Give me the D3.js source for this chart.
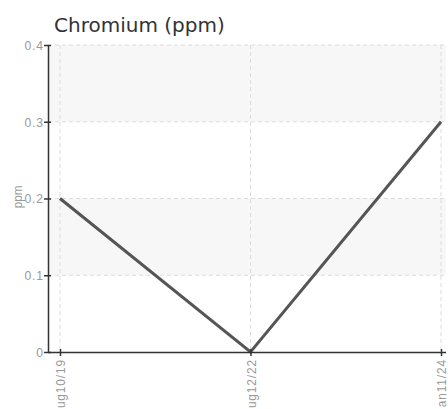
<!DOCTYPE html>
<html><head><meta charset="utf-8">
<script src="https://cdn.jsdelivr.net/npm/d3@7"></script>
<style>
body{margin:0;background:#fff;}
svg{display:block;}
</style></head>
<body>
<svg id="c" width="448" height="409"></svg>
<script>
const categories = ["Aug10/19", "Aug12/22", "Jan11/24"];
const values = [0.2, 0, 0.3];
const yTicks = [0, 0.1, 0.2, 0.3, 0.4];
const yTickLabels = ["0", "0.1", "0.2", "0.3", "0.4"];

(function(){
const svg = d3.select("#c");
const mLeft = 48, mRight = 446, mTop = 45, mBottom = 352;
const x = d3.scalePoint().domain(categories).range([60, 441]);
const y = d3.scaleLinear().domain([0, 0.4]).range([mBottom, mTop]);
const condFont = "'Liberation Sans', Arial, sans-serif";

// bands
const bands = [[0.1, 0.2], [0.3, 0.4]];
svg.selectAll("rect.band").data(bands).enter().append("rect")
  .attr("x", mLeft).attr("width", mRight - mLeft)
  .attr("y", d => y(d[1])).attr("height", d => y(d[0]) - y(d[1]))
  .attr("fill", "#f7f7f7");

// grid
svg.selectAll("line.hg").data(yTicks.slice(1)).enter().append("line")
  .attr("x1", mLeft).attr("x2", mRight).attr("y1", d => y(d)).attr("y2", d => y(d))
  .attr("stroke", "#dcdcdc").attr("stroke-dasharray", "4,3");
svg.selectAll("line.vg").data(categories).enter().append("line")
  .attr("x1", d => x(d)).attr("x2", d => x(d)).attr("y1", mTop).attr("y2", mBottom)
  .attr("stroke", "#dcdcdc").attr("stroke-dasharray", "4,3");

// line
const line = d3.line().x((d, i) => x(categories[i])).y(d => y(d));
svg.append("path").datum(values).attr("d", line)
  .attr("fill", "none").attr("stroke", "#555").attr("stroke-width", 3)
  .attr("stroke-linejoin", "miter");

// y axis
const yAxis = d3.axisLeft(y).tickValues(yTicks).tickFormat((d, i) => yTickLabels[i]).tickSize(5).tickSizeOuter(0);
const gy = svg.append("g").attr("transform", `translate(${mLeft},0)`).call(yAxis);
gy.select(".domain").attr("stroke", "#333").attr("stroke-width", 1.5);
gy.selectAll(".tick line").attr("stroke", "#333").attr("stroke-width", 1.5).attr("x1", 3).attr("x2", -4);
gy.selectAll(".tick text").attr("x", 0).attr("transform", "translate(-4,0) scale(0.9,1)").attr("fill", "#999")
  .style("font-family", condFont).style("font-size", "13.5px").style("letter-spacing", "1px");

// x axis
const xAxis = d3.axisBottom(x).tickSize(5).tickSizeOuter(0);
const gx = svg.append("g").attr("transform", `translate(0,${mBottom})`).call(xAxis);
gx.select(".domain").attr("stroke", "#333").attr("stroke-width", 1.5).attr("d", `M${mLeft},0.5H${mRight}`);
gx.selectAll(".tick line").attr("stroke", "#333").attr("stroke-width", 1.5).attr("y1", -3).attr("y2", 4);
gx.selectAll(".tick text")
  .attr("transform", "rotate(-90) scale(0.88,1)").attr("x", -8).attr("y", 0).attr("dy", "0.35em")
  .attr("text-anchor", "end").attr("fill", "#999")
  .style("font-family", condFont).style("font-size", "13.5px").style("letter-spacing", "1px");

// y label
svg.append("text").attr("transform", "translate(22,197) rotate(-90) scale(0.9,1)")
  .attr("text-anchor", "middle").attr("fill", "#999")
  .style("font-family", condFont).style("font-size", "13px").text("ppm");

// title
svg.append("text").attr("x", 54).attr("y", 32).attr("fill", "#333")
  .style("font-family", "'DejaVu Sans', sans-serif").style("font-size", "20px").text("Chromium (ppm)");
})();
</script>
</body></html>
